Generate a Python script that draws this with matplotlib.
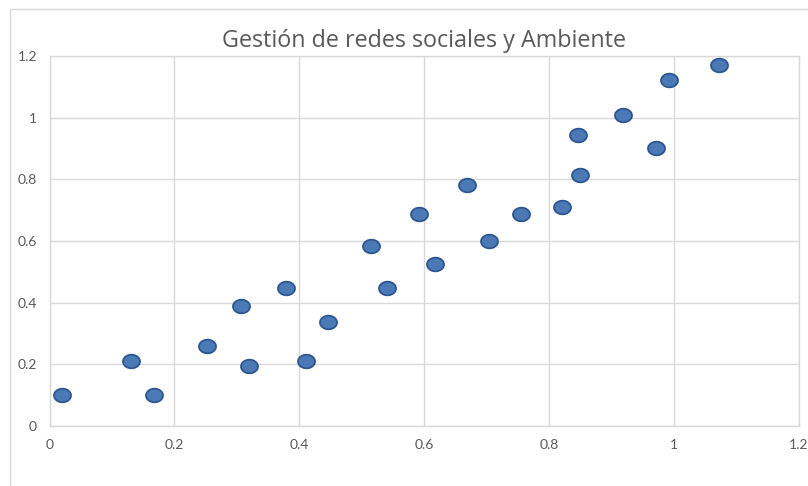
import matplotlib
matplotlib.use("Agg")
import matplotlib.pyplot as plt
from matplotlib.path import Path
from matplotlib.patches import Rectangle
import numpy as np

# Puntajes por participante
gestion_redes = [0.02, 0.13, 0.167, 0.252, 0.306, 0.319, 0.379, 0.411, 0.446,
                 0.514, 0.54, 0.591, 0.617, 0.668, 0.704, 0.755, 0.82, 0.846,
                 0.849, 0.918, 0.971, 0.992, 1.072]
ambiente = [0.10, 0.21, 0.10, 0.26, 0.39, 0.195, 0.448, 0.21, 0.337,
            0.584, 0.448, 0.688, 0.525, 0.782, 0.60, 0.688, 0.71, 0.944,
            0.814, 1.009, 0.902, 1.122, 1.171]

x_ticks = [0, 0.2, 0.4, 0.6, 0.8, 1, 1.2]
y_ticks = [0, 0.2, 0.4, 0.6, 0.8, 1, 1.2]
x_labels = ["0", "0.2", "0.4", "0.6", "0.8", "1", "1.2"]
y_labels = ["0", "0.2", "0.4", "0.6", "0.8", "1", "1.2"]

titulo = "Gestión de redes sociales y Ambiente"
leyenda_figura = ("Figura 6. Dispersión de la variable gestión de redes sociales "
                  "de la marca y ambiente")

W, H = 808, 486
fig = plt.figure(figsize=(W / 100, H / 100), dpi=100)

# Marco del área del gráfico
fig.add_artist(Rectangle((10 / W, -0.1), 1.2, (H - 9) / H + 0.1,
                         transform=fig.transFigure, facecolor="white",
                         edgecolor="#d9d9d9", linewidth=1.0, zorder=-5))

# Pie de figura de la página, recortado en el borde superior
fig.text(19 / W, 1 + 4.5 / H, leyenda_figura, family="Liberation Serif",
         style="italic", weight="bold", fontsize=15, va="baseline",
         ha="left", color="black")

ax = fig.add_axes([49.5 / W, (H - 426) / H, (799 - 49.5) / W, (426 - 56) / H])
ax.set_facecolor("none")

# Marcador elíptico, un poco más ancho que alto
t = np.linspace(0, 2 * np.pi, 60)
ellipse = Path(np.column_stack([np.cos(t), 0.8 * np.sin(t)]), closed=True)

ax.scatter(gestion_redes, ambiente, s=150, marker=ellipse, facecolor="#4a79b6",
           edgecolor="#2d5790", linewidth=1.3, zorder=3, clip_on=False)

ax.set_xlim(0, 1.2)
ax.set_ylim(0, 1.2)
ax.set_xticks(x_ticks)
ax.set_xticklabels(x_labels)
ax.set_yticks(y_ticks)
ax.set_yticklabels(y_labels)
ax.grid(True, color="#d9d9d9", linewidth=1.0)
ax.set_axisbelow(True)
for s in ax.spines.values():
    s.set_color("#d9d9d9")
    s.set_linewidth(1.0)
ax.tick_params(length=0, colors="#595959", labelsize=10, pad=9)
for lab in ax.get_xticklabels() + ax.get_yticklabels():
    lab.set_family("Lato")

fig.text(424.5 / W, 1 - 47 / H, titulo, family="Open Sans", fontsize=16.8,
         color="#595959", ha="center", va="baseline")

fig.savefig("out.png", dpi=100)
